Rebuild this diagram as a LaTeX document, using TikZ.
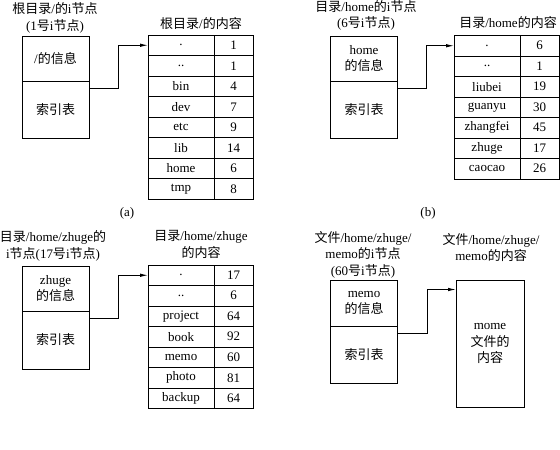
\documentclass[tikz,border=0pt]{standalone}
\usepackage{fontspec}
\setmainfont{Liberation Serif}
\newfontfamily\cjk{Noto Sans CJK SC}
\usetikzlibrary{arrows.meta}
\newcommand{\zh}[1]{{\cjk #1}}

\begin{document}
\begin{tikzpicture}[x=1pt,y=-1pt,
    font=\fontsize{13}{16.5}\selectfont, line width=0.9pt,
    inodebox/.style={draw, minimum width=67, inner sep=0, outer sep=0, align=center},
    namecell/.style={draw, minimum width=66, minimum height=20.5, inner sep=0, outer sep=0},
    numcell/.style={draw, minimum width=39, minimum height=20.5, inner sep=0, outer sep=0},
    filebox/.style={draw, minimum width=68, minimum height=127, inner sep=0, outer sep=0, align=center},
    title/.style={align=center},
    link/.style={-{Latex[length=8pt,width=3.5pt]}}]

    \useasboundingbox (0,0) rectangle (560,450);

    % (a) root directory
        \node[title] (atitle) at (55,18) {\zh{根目录}/\zh{的}i\zh{节点}\\(1\zh{号}i\zh{节点})};
        \node[inodebox, minimum height=45] (ainfo) at (55.5,58.5) {/\zh{的信息}};
        \node[inodebox, minimum height=57, anchor=north] (aidx) at (ainfo.south) {\zh{索引表}};
        \coordinate (aout) at ([yshift=-7pt]aidx.north east);
        \node[title] (ahead) at (201,24) {\zh{根目录}/\zh{的内容}};
        \foreach \nm/\num [count=\i] in {./1, ../1, bin/4, dev/7, etc/9, lib/14, home/6, tmp/8} {
            \node[namecell] (an\i) at (181,{24.75+20.5*\i}) {\nm};
            \node[numcell, anchor=west] (am\i) at (an\i.east) {\num};
        }
        \draw[link] (aout) -- ++(29,0) |- (an1.west);
        \node (acap) at (127,213) {(a)};

    % (b) directory /home
        \node[title] (btitle) at (366,15.5) {\zh{目录}/home\zh{的}i\zh{节点}\\(6\zh{号}i\zh{节点})};
        \node[inodebox, minimum height=45] (binfo) at (364,58.5) {home\\\zh{的信息}};
        \node[inodebox, minimum height=57, anchor=north] (bidx) at (binfo.south) {\zh{索引表}};
        \coordinate (bout) at ([yshift=-7pt]bidx.north east);
        \node[title] (bhead) at (508,23) {\zh{目录}/home\zh{的内容}};
        \foreach \nm/\num [count=\i] in {./6, ../1, liubei/19, guanyu/30, zhangfei/45, zhuge/17, caocao/26} {
            \node[namecell] (bn\i) at (487,{25.25+20.5*\i}) {\nm};
            \node[numcell, anchor=west] (bm\i) at (bn\i.east) {\num};
        }
        \draw[link] (bout) -- ++(29,0) |- (bn1.west);
        \node (bcap) at (428,213) {(b)};

    % (c) directory /home/zhuge
        \node[title] (ctitle) at (53,246) {\zh{目录}/home/zhuge\zh{的}\\i\zh{节点}(17\zh{号}i\zh{节点})};
        \node[inodebox, minimum height=45] (cinfo) at (55.5,288.5) {zhuge\\\zh{的信息}};
        \node[inodebox, minimum height=58, anchor=north] (cidx) at (cinfo.south) {\zh{索引表}};
        \coordinate (cout) at ([yshift=-7pt]cidx.north east);
        \node[title] (chead) at (201,244.5) {\zh{目录}/home/zhuge\\\zh{的内容}};
        \foreach \nm/\num [count=\i] in {./17, ../6, project/64, book/92, memo/60, photo/81, backup/64} {
            \node[namecell] (cn\i) at (181,{254.75+20.5*\i}) {\nm};
            \node[numcell, anchor=west] (cm\i) at (cn\i.east) {\num};
        }
        \draw[link] (cout) -- ++(29,0) |- (cn1.west);

    % (d) file /home/zhuge/memo
        \node[title] (dtitle) at (363,254.5) {\zh{文件}/home/zhuge/\\memo\zh{的}i\zh{节点}\\(60\zh{号}i\zh{节点})};
        \node[inodebox, minimum height=46] (dinfo) at (364,303) {memo\\\zh{的信息}};
        \node[inodebox, minimum height=57, anchor=north] (didx) at (dinfo.south) {\zh{索引表}};
        \coordinate (dout) at ([yshift=-7pt]didx.north east);
        \node[title] (dhead) at (491,247.5) {\zh{文件}/home/zhuge/\\memo\zh{的内容}};
        \node[filebox] (dfile) at (490,343.5) {mome\\\zh{文件的}\\\zh{内容}};
        \coordinate (din) at ([yshift=-9.5pt]dfile.north west);
        \draw[link] (dout) -- ++(30,0) |- (din);

\end{tikzpicture}
\end{document}
